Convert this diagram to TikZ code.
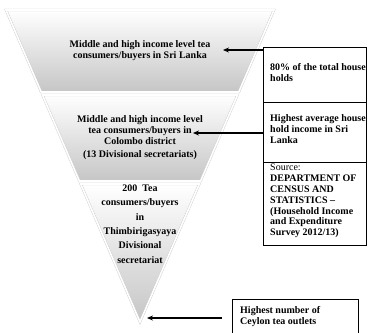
\documentclass[tikz,border=0pt]{standalone}
\usepackage{fontspec}
\setmainfont{Liberation Serif}
\usetikzlibrary{arrows.meta,calc}
\begin{document}
\begin{tikzpicture}[x=1pt,y=-1pt,
  band/.style={top color=white, bottom color=gray!45, draw=gray!40, double=white, double distance=1.6pt, line join=miter},
  ftext/.style={font=\fontsize{10}{11}\selectfont\bfseries, align=center, inner sep=0pt, anchor=north},
  infobox/.style={draw=black, line width=1pt, rectangle, inner sep=0pt, anchor=north west},
  btext/.style={font=\fontsize{10}{10.8}\selectfont\bfseries, align=left, inner sep=0pt, anchor=north west},
  arr/.style={-{Stealth[length=6pt,width=5pt]}, line width=1.1pt}]
\clip (0,0) rectangle (368,333);
\fill[white] (0,0) rectangle (368,333);
% funnel bands
\path[band] (6,10) -- (274,10) -- (238.8,92) -- (41.2,92) -- cycle;
\path[band] (42.5,95) -- (237.5,95) -- (200.6,181) -- (79.4,181) -- cycle;
\path[band] (80.7,184) -- (199.3,184) -- (140,322) -- cycle;
% funnel texts
\node[ftext] (t1) at (140,40.5) {Middle and high income level tea\\consumers/buyers in Sri Lanka};
\node[ftext] (t2) at (140,115.5) {Middle and high income level\\tea consumers/buyers in\\Colombo district\\[2pt](13 Divisional secretariats)};
\node[ftext, font=\fontsize{10}{14.4}\selectfont\bfseries] (t3) at (140,184.5) {200~~Tea\\consumers/buyers\\in\\Thimbirigasyaya\\Divisional\\secretariat};
% boxes
\node[infobox, minimum width=103, minimum height=55] (b1) at (263,47) {};
\node[infobox, minimum width=103, minimum height=60] (b2) at (263,102) {};
\node[infobox, minimum width=103, minimum height=83] (b3) at (263,162) {};
\node[infobox, minimum width=126, minimum height=45] (b4) at (232,299) {};
\node[btext] (l1) at (270,63.5) {80\% of the total house\\holds};
\node[btext] (l2) at (270,114.5) {Highest average house\\hold income in Sri\\Lanka};
\node[btext] (l3) at (270,164) {{\mdseries Source:}\\DEPARTMENT OF\\CENSUS AND\\STATISTICS --\\(Household Income\\and Expenditure\\Survey 2012/13)};
\node[btext] (l4) at (240,306.5) {Highest number of\\Ceylon tea outlets};
% arrows
\coordinate (a1) at (223,50);
\coordinate (a2) at (193,133);
\coordinate (a3) at (147,318);
\coordinate (s3) at (222,318);
\draw[arr] (b1.west |- a1) -- (a1);
\draw[arr] (b2.west |- a2) -- (a2);
\draw[arr] (s3) -- (a3);
\end{tikzpicture}
\end{document}
